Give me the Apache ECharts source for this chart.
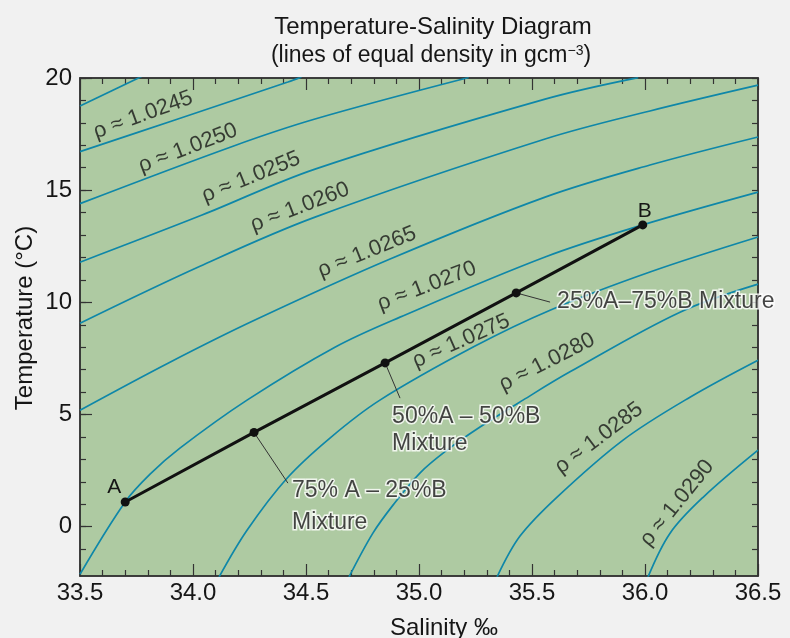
<!DOCTYPE html>
<html>
<head>
<meta charset="utf-8">
<script src="https://cdn.jsdelivr.net/npm/echarts@6/dist/echarts.min.js"></script>
<style>
html,body{margin:0;padding:0;background:#f1f1f1;}
#chart{width:790px;height:638px;}
</style>
</head>
<body>
<div id="chart"></div>
<script>
// ---------------- DATA ----------------
const salinityRange = [33.5, 36.5];
const temperatureRange = [-2.2, 20];
const salinityTickStep = 0.5;
const temperatureLabelValues = [0, 5, 10, 15, 20];
const temperatureMinorValues = [-1, 0, 1, 2, 3, 4, 5, 6, 7, 8, 9, 10, 11, 12, 13, 14, 15, 16, 17, 18, 19, 20];

// density isolines: [salinity, temperature] pairs
const rho10240 = [[33.5, 18.75], [33.80, 20.2]];
const rho10245 = [[33.5, 16.72], [33.92, 18.13], [34.42, 19.82], [34.48, 20.05]];
const rho10250 = [[33.5, 14.40], [34.177, 16.96], [34.54, 18.17], [35.22, 20.02]];
const rho10255 = [[33.5, 11.79], [34.04, 13.89], [34.54, 15.94], [35.558, 19.06], [35.97, 20.02]];
const rho10260 = [[33.5, 9.07], [34.031, 11.61], [34.54, 13.80], [35.558, 17.28], [36.022, 18.53], [36.5, 19.68]];
const rho10265 = [[33.5, 5.19], [33.898, 7.33], [34.274, 9.21], [34.872, 11.93], [35.558, 14.69], [36.022, 16.12], [36.5, 17.37]];
const rho10270 = [[33.5, -2.12], [33.699, 1.09], [33.81, 2.34], [33.942, 3.50], [34.239, 5.64], [34.628, 8.00], [34.916, 9.34], [35.558, 12.02], [35.99, 13.45], [36.5, 14.91]];
const rho10275 = [[34.115, -2.25], [34.239, -0.16], [34.416, 2.16], [34.606, 3.95], [34.827, 5.64], [35.248, 8.05], [35.58, 9.65], [36.022, 11.35], [36.5, 12.91]];
const rho10280 = [[34.69, -2.25], [34.796, -0.29], [34.885, 0.96], [35.004, 2.39], [35.124, 3.41], [35.27, 4.44], [35.46, 5.64], [35.668, 6.90], [36.155, 9.56], [36.5, 10.81]];
const rho10285 = [[35.345, -2.25], [35.447, -0.42], [35.611, 1.32], [35.903, 3.86], [36.199, 5.77], [36.5, 7.42]];
const rho10290 = [[36.013, -2.25], [36.111, -0.29], [36.257, 1.31], [36.5, 3.41]];
const isolines = [rho10240, rho10245, rho10250, rho10255, rho10260, rho10265, rho10270, rho10275, rho10280, rho10285, rho10290];

// isoline labels
const rhoLabelNames = ['1.0245', '1.0250', '1.0255', '1.0260', '1.0265', '1.0270', '1.0275', '1.0280', '1.0285', '1.0290'];
const rhoLabelSalinity = [33.779, 33.978, 34.257, 34.473, 34.77, 35.035, 35.186, 35.566, 35.796, 36.142];
const rhoLabelTemperature = [18.35, 16.87, 15.58, 14.24, 12.24, 10.72, 8.27, 7.33, 3.95, 1.05];

// mixing line A -> B
const mixNames = ['A', '75% A \u2013 25%B', '50%A \u2013 50%B', '25%A\u201375%B', 'B'];
const mixSalinity = [33.70, 34.27, 34.85, 35.43, 35.99];
const mixTemperature = [1.10, 4.20, 7.30, 10.42, 13.45];

// leader lines from mixture points to their captions
const leader75 = [[34.27, 4.20], [34.42, 1.94]];
const leader50 = [[34.85, 7.30], [34.916, 5.73]];
const leader25 = [[35.43, 10.42], [35.58, 10.01]];
const captionTexts = ['75% A \u2013 25%B\nMixture', '50%A \u2013 50%B\nMixture', '25%A\u201375%B Mixture'];
const captionSalinity = [34.438, 34.881, 35.611];
const captionTemperature = [0.87, 4.30, 10.01];

// ---------------- STYLE ----------------
const FONT = '"Liberation Sans", Arial, Helvetica, sans-serif';
const TXT = '#161616';
const AXIS = '#333';
const ISO = '#0f87a8';
const rhoLabelRotate = [20, 21, 22, 21, 22, 21, 24, 27, 37, 51];
const captionLineHeight = [32, 27, 27];
const mixLabelOffset = { A: [-11, -15], B: [2, -14] };

const tickLine = { color: AXIS, width: 1.2 };

function xAxisOf(pos, showLabel) {
  return {
    type: 'value', position: pos,
    min: salinityRange[0], max: salinityRange[1], interval: salinityTickStep,
    axisLine: { show: true, onZero: false, lineStyle: { color: AXIS, width: 1.5 } },
    axisTick: { show: true, inside: true, length: 12, lineStyle: tickLine },
    minorTick: { show: true, splitNumber: 5, length: 6, lineStyle: tickLine },
    axisLabel: { show: showLabel, color: TXT, fontSize: 24, fontFamily: FONT, margin: 5,
      formatter: v => v.toFixed(1) },
    splitLine: { show: false }, minorSplitLine: { show: false }
  };
}

const series = [];
isolines.forEach((pts, i) => {
  series.push({
    type: 'line', data: pts, xAxisIndex: 0, yAxisIndex: 0,
    smooth: 0.35, symbol: 'none', clip: true, silent: true,
    lineStyle: { color: ISO, width: 1.7 }, z: 2
  });
});
[leader75, leader50, leader25].forEach(pts => {
  series.push({
    type: 'line', data: pts, symbol: 'none', silent: true,
    lineStyle: { color: '#333', width: 1 }, z: 3
  });
});
series.push({
  type: 'line', z: 5, silent: true,
  data: mixSalinity.map((s, i) => {
    const item = { value: [s, mixTemperature[i]] };
    const nm = mixNames[i];
    if (mixLabelOffset[nm]) {
      item.label = { show: true, formatter: nm, position: 'inside', offset: mixLabelOffset[nm],
        color: TXT, fontSize: 21, fontFamily: FONT };
    }
    return item;
  }),
  symbol: 'circle', symbolSize: 9,
  itemStyle: { color: '#111' },
  lineStyle: { color: '#111', width: 3 }
});
series.push({
  type: 'scatter', z: 6, silent: true, symbol: 'circle', symbolSize: 1,
  itemStyle: { color: 'transparent' },
  data: rhoLabelNames.map((n, i) => ({
    value: [rhoLabelSalinity[i], rhoLabelTemperature[i]],
    label: { show: true, formatter: '\u03c1 \u2248 ' + n, position: 'inside', rotate: rhoLabelRotate[i],
      color: TXT, fontSize: 22, fontFamily: FONT }
  }))
});
series.push({
  type: 'scatter', z: 7, silent: true, symbol: 'circle', symbolSize: 1,
  itemStyle: { color: 'transparent' },
  data: captionTexts.map((t, i) => ({
    value: [captionSalinity[i], captionTemperature[i]],
    label: { show: true, formatter: t, position: 'inside', align: 'left', verticalAlign: 'middle',
      color: TXT, fontSize: 23, fontFamily: FONT, lineHeight: captionLineHeight[i],
      textBorderColor: '#ffffff', textBorderWidth: 3 }
  }))
});

const option = {
  animation: false,
  backgroundColor: '#f1f1f1',
  grid: { left: 80, right: 32, top: 78, bottom: 62, show: true,
    backgroundColor: '#aecaa2', borderColor: AXIS, borderWidth: 1.5 },
  xAxis: [xAxisOf('bottom', true), xAxisOf('top', false)],
  yAxis: [
    { type: 'value', position: 'left', min: temperatureRange[0], max: temperatureRange[1],
      axisLine: { show: true, onZero: false, lineStyle: { color: AXIS, width: 1.5 } },
      axisTick: { show: true, inside: true, length: 12, lineStyle: tickLine, customValues: temperatureLabelValues },
      axisLabel: { show: true, customValues: temperatureLabelValues, color: TXT, fontSize: 24, fontFamily: FONT, margin: 8 },
      splitLine: { show: false } },
    { type: 'value', position: 'left', min: temperatureRange[0], max: temperatureRange[1],
      axisLine: { show: false, onZero: false },
      axisTick: { show: true, inside: true, length: 6, lineStyle: tickLine, customValues: temperatureMinorValues },
      axisLabel: { show: false }, splitLine: { show: false } },
    { type: 'value', position: 'right', min: temperatureRange[0], max: temperatureRange[1],
      axisLine: { show: true, onZero: false, lineStyle: { color: AXIS, width: 1.5 } },
      axisTick: { show: true, inside: true, length: 6, lineStyle: tickLine, customValues: temperatureMinorValues },
      axisLabel: { show: false }, splitLine: { show: false } }
  ],
  graphic: [
    { type: 'text', x: 433, y: 27, silent: true,
      style: { text: 'Temperature-Salinity Diagram', fill: TXT, font: '24px ' + FONT,
        align: 'center', verticalAlign: 'middle', textAlign: 'center', textVerticalAlign: 'middle' } },
    { type: 'text', x: 431, y: 56, silent: true,
      style: { text: '(lines of equal density in gcm{sup|\u22123})', fill: TXT, font: '23px ' + FONT,
        align: 'center', verticalAlign: 'middle', textAlign: 'center', textVerticalAlign: 'middle',
        rich: { sup: { fontSize: 14, fontFamily: FONT, verticalAlign: 'top', lineHeight: 14, fill: TXT } } } },
    { type: 'text', x: 444, y: 628, silent: true,
      style: { text: 'Salinity \u2030', fill: TXT, font: '24px ' + FONT,
        align: 'center', verticalAlign: 'middle', textAlign: 'center', textVerticalAlign: 'middle' } },
    { type: 'text', x: 25, y: 318, rotation: Math.PI / 2, silent: true,
      style: { text: 'Temperature (\u00b0C)', fill: TXT, font: '24px ' + FONT,
        align: 'center', verticalAlign: 'middle', textAlign: 'center', textVerticalAlign: 'middle' } }
  ],
  series: series
};

const chart = echarts.init(document.getElementById('chart'), null, { renderer: 'canvas' });
chart.setOption(option);
</script>
</body>
</html>
